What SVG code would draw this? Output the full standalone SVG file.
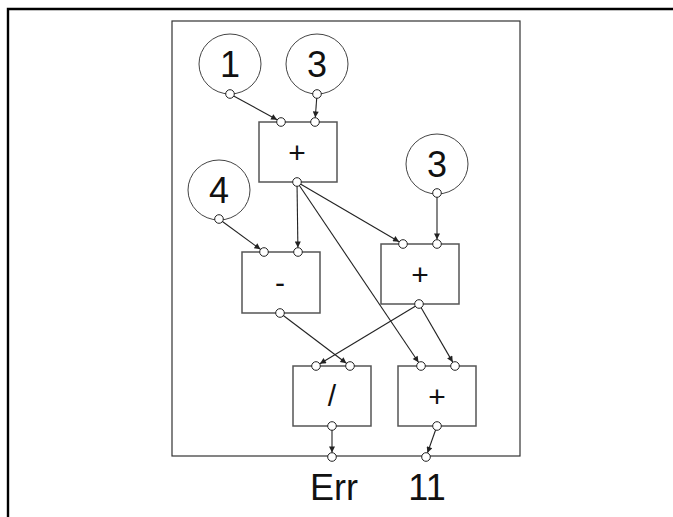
<svg xmlns="http://www.w3.org/2000/svg" width="673" height="517" viewBox="0 0 673 517">
<style>
.frame{fill:none;stroke:#000;stroke-width:2.4}
.inner{fill:none;stroke:#333;stroke-width:1.2}
.val{fill:#fff;stroke:#444;stroke-width:1}
.op{fill:#fff;stroke:#555;stroke-width:1.5}
.port{fill:#fff;stroke:#222;stroke-width:1}
.edge{fill:none;stroke:#222;stroke-width:1.1;marker-end:url(#ah)}
.num{font-family:"Liberation Sans",Arial,sans-serif;font-size:36px;fill:#111;text-anchor:middle}
.opt{font-family:"Liberation Sans",Arial,sans-serif;font-size:30px;fill:#111;text-anchor:middle}
</style>
<defs>
<marker id="ah" viewBox="0 0 10 10" refX="10" refY="5" markerWidth="8" markerHeight="6" markerUnits="userSpaceOnUse" orient="auto">
<path d="M0,0 L10,5 L0,10 z" fill="#222"/>
</marker>
</defs>
<rect width="673" height="517" fill="#fff"/>
<path class="frame" d="M8,517 V9 H673"/>
<rect class="inner" x="172" y="21" width="348" height="435"/>
<g id="connectors">
<line class="edge" x1="230" y1="94" x2="277.1" y2="119.8"/>
<line class="edge" x1="317" y1="94" x2="315.3" y2="117.5"/>
<line class="edge" x1="297" y1="182" x2="297.9" y2="247.5"/>
<line class="edge" x1="297" y1="182" x2="399.1" y2="241.7"/>
<line class="edge" x1="297" y1="182" x2="418.5" y2="362.3"/>
<line class="edge" x1="219" y1="219" x2="260.4" y2="249.3"/>
<line class="edge" x1="437" y1="193" x2="437" y2="239.5"/>
<line class="edge" x1="280" y1="313" x2="346.4" y2="363.3"/>
<line class="edge" x1="419" y1="304" x2="319.9" y2="363.7"/>
<line class="edge" x1="419" y1="304" x2="452.7" y2="362.1"/>
<line class="edge" x1="332" y1="426" x2="332" y2="452.5"/>
<line class="edge" x1="437" y1="426" x2="427.5" y2="452.8"/>
</g>
<g id="const1">
<ellipse class="val" cx="230" cy="64" rx="31" ry="30"/>
<text class="num" x="230" y="77">1</text>
<circle class="port" cx="230" cy="94" r="4.3"/>
</g>
<g id="const3a">
<ellipse class="val" cx="317" cy="64" rx="31" ry="30"/>
<text class="num" x="317" y="77">3</text>
<circle class="port" cx="317" cy="94" r="4.3"/>
</g>
<g id="const4">
<ellipse class="val" cx="219" cy="190" rx="31" ry="30"/>
<text class="num" x="219" y="203">4</text>
<circle class="port" cx="219" cy="219" r="4.3"/>
</g>
<g id="const3b">
<ellipse class="val" cx="437" cy="164" rx="31" ry="30"/>
<text class="num" x="437" y="177">3</text>
<circle class="port" cx="437" cy="193" r="4.3"/>
</g>
<g id="add1">
<rect class="op" x="259" y="122" width="78" height="60"/>
<text class="opt" x="297" y="163">+</text>
<circle class="port" cx="281" cy="122" r="4.3"/>
<circle class="port" cx="315" cy="122" r="4.3"/>
<circle class="port" cx="297" cy="182" r="4.3"/>
</g>
<g id="sub">
<rect class="op" x="242" y="252" width="78" height="61"/>
<text class="opt" x="280" y="293">-</text>
<circle class="port" cx="264" cy="252" r="4.3"/>
<circle class="port" cx="298" cy="252" r="4.3"/>
<circle class="port" cx="280" cy="313" r="4.3"/>
</g>
<g id="add2">
<rect class="op" x="381" y="244" width="78" height="60"/>
<text class="opt" x="420" y="285">+</text>
<circle class="port" cx="403" cy="244" r="4.3"/>
<circle class="port" cx="437" cy="244" r="4.3"/>
<circle class="port" cx="419" cy="304" r="4.3"/>
</g>
<g id="div">
<rect class="op" x="293" y="366" width="78" height="60"/>
<text class="opt" x="332" y="406">/</text>
<circle class="port" cx="316" cy="366" r="4.3"/>
<circle class="port" cx="350" cy="366" r="4.3"/>
<circle class="port" cx="332" cy="426" r="4.3"/>
</g>
<g id="add3">
<rect class="op" x="398" y="366" width="78" height="60"/>
<text class="opt" x="437" y="407">+</text>
<circle class="port" cx="421" cy="366" r="4.3"/>
<circle class="port" cx="455" cy="366" r="4.3"/>
<circle class="port" cx="437" cy="426" r="4.3"/>
</g>
<g id="out1">
<circle class="port" cx="332" cy="457" r="4.3"/>
<text class="num" x="334" y="500">Err</text>
</g>
<g id="out2">
<circle class="port" cx="426" cy="457" r="4.3"/>
<text class="num" x="427" y="500">11</text>
</g>
</svg>
